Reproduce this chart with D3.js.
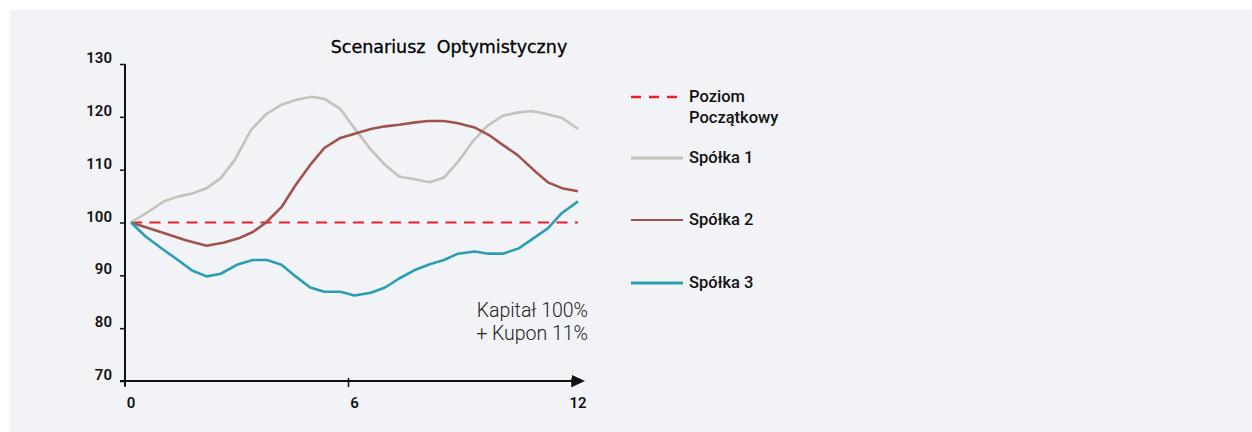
<!DOCTYPE html>
<html>
<head>
<meta charset="utf-8">
<script src="https://cdn.jsdelivr.net/npm/d3@7"></script>
<style>
  body { margin: 0; background: #fff; }
  svg text { font-family: Roboto, "Noto Sans", sans-serif; }
</style>
</head>
<body>
<div id="chart"></div>
<script>
// chart data (months 0..12, index level)
const xTicks = [0, 6, 12];
const yTicks = [70, 80, 90, 100, 110, 120, 130];
const startLevel = 100;

const s1Months = [0, 0.44, 0.88, 1.26, 1.64, 2.03, 2.41, 2.79, 3.22, 3.61, 4.04, 4.42, 4.85, 5.19, 5.62, 5.96, 6.44, 6.82, 7.2, 7.68, 8.02, 8.4, 8.78, 9.17, 9.55, 9.98, 10.37, 10.75, 11.13, 11.57, 12];
const s1Values = [100, 101.9, 104, 104.9, 105.5, 106.5, 108.4, 111.9, 117.5, 120.4, 122.3, 123.2, 123.8, 123.4, 121.5, 118.2, 113.8, 110.9, 108.7, 108.1, 107.6, 108.5, 111.5, 115.3, 118.2, 120.2, 120.8, 121.1, 120.6, 119.8, 117.7];

const s2Months = [0, 0.88, 1.45, 2.03, 2.5, 2.89, 3.27, 3.61, 4.04, 4.42, 4.81, 5.19, 5.62, 6.05, 6.44, 6.82, 7.2, 7.59, 7.97, 8.4, 8.78, 9.22, 9.6, 9.98, 10.37, 10.8, 11.19, 11.57, 12];
const s2Values = [100, 98.0, 96.7, 95.6, 96.2, 97.0, 98.2, 99.9, 102.9, 107.1, 110.9, 114.1, 116.0, 116.9, 117.7, 118.2, 118.5, 118.9, 119.2, 119.2, 118.8, 118.0, 116.6, 114.7, 112.8, 110.0, 107.6, 106.5, 105.9];

const s3Months = [0, 0.4, 0.88, 1.26, 1.64, 2.03, 2.41, 2.84, 3.27, 3.65, 4.04, 4.42, 4.81, 5.19, 5.62, 6.0, 6.44, 6.82, 7.2, 7.59, 8.02, 8.4, 8.78, 9.22, 9.6, 9.98, 10.41, 10.8, 11.19, 11.57, 12];
const s3Values = [100, 97.3, 94.8, 92.9, 90.9, 89.8, 90.3, 92.0, 92.9, 92.9, 92.0, 89.8, 87.7, 86.9, 86.9, 86.2, 86.7, 87.7, 89.4, 90.9, 92.1, 92.9, 94.1, 94.5, 94.1, 94.1, 95.1, 97.0, 98.9, 101.8, 104.0];

const seriesNames = ['Spółka 1', 'Spółka 2', 'Spółka 3'];
const seriesColors = ['#c3c2bc', '#a0524f', '#2a9db3'];
const levelName = ['Poziom', 'Początkowy'];
const titleText = 'Scenariusz\u00a0\u00a0Optymistyczny';
const noteLines = ['Kapitał 100%', '+ Kupon 11%'];

const W = 1252, H = 432;

const svg = d3.select('#chart').append('svg')
    .attr('width', W)
    .attr('height', H);

// grey panel
svg.append('rect')
    .attr('x', 10).attr('y', 10)
    .attr('width', W - 10).attr('height', H - 10)
    .attr('fill', '#f2f3f7');

const x = d3.scaleLinear().domain([0, 12]).range([131, 578]);
const y = d3.scaleLinear().domain([70, 130]).range([381, 64]);
const axisX = 125; // y axis sits a little left of month 0

// title
svg.append('text')
    .attr('x', 449).attr('y', 53)
    .attr('text-anchor', 'middle')
    .style('font-family', '"DejaVu Sans", sans-serif')
    .style('font-size', '17.5px')
    .attr('fill', '#000')
    .attr('stroke', '#000')
    .attr('stroke-width', 0.3)
    .text(titleText);

// y axis
const yAxis = svg.append('g')
    .attr('transform', `translate(${axisX},0)`)
    .call(d3.axisLeft(y).tickValues(yTicks).tickSize(5).tickPadding(8));
yAxis.select('.domain').attr('d', `M0,${y(130)}V${y(70) + 5}`).attr('stroke', '#111').attr('stroke-width', 2);
yAxis.selectAll('.tick line').attr('stroke', '#111').attr('stroke-width', 1.5);
yAxis.selectAll('.tick text')
    .attr('fill', '#111')
    .style('font-size', '15px')
    .style('font-weight', 600)
    .attr('dy', '-0.1em');

// x axis, ticks sit a few px left of the labels
const xAxis = svg.append('g')
    .attr('transform', `translate(0,${y(70)})`);
xAxis.append('line')
    .attr('x1', axisX - 5).attr('x2', x(12) + 2)
    .attr('stroke', '#111').attr('stroke-width', 2);
xAxis.append('path')
    .attr('d', `M${x(12) - 6},-6L${x(12) + 7},0L${x(12) - 6},6Z`)
    .attr('fill', '#111');
xAxis.selectAll('.xt')
    .data(xTicks)
    .enter()
    .append('line')
    .attr('class', 'xt')
    .attr('x1', d => x(d) - 6).attr('x2', d => x(d) - 6)
    .attr('y1', -3).attr('y2', 6)
    .attr('stroke', '#111').attr('stroke-width', 1.5);
xAxis.selectAll('.xl')
    .data(xTicks)
    .enter()
    .append('text')
    .attr('class', 'xl')
    .attr('x', d => x(d))
    .attr('y', 27)
    .attr('text-anchor', 'middle')
    .style('font-size', '15px')
    .style('font-weight', 600)
    .attr('fill', '#111')
    .text(d => d);

// starting level
svg.append('line')
    .attr('x1', x(0)).attr('x2', x(12))
    .attr('y1', y(startLevel)).attr('y2', y(startLevel))
    .attr('stroke', '#e3202c')
    .attr('stroke-width', 1.8)
    .attr('stroke-dasharray', '11,7.5');

const line = d3.line()
    .x(d => x(d[0]))
    .y(d => y(d[1]));

const series = [
    d3.zip(s1Months, s1Values),
    d3.zip(s2Months, s2Values),
    d3.zip(s3Months, s3Values)
];

svg.append('g').selectAll('path')
    .data(series)
    .enter()
    .append('path')
    .attr('d', line)
    .attr('fill', 'none')
    .attr('stroke', (d, i) => seriesColors[i])
    .attr('stroke-width', 2.6)
    .attr('stroke-linejoin', 'round');

// note
svg.append('g').selectAll('text')
    .data(noteLines)
    .enter()
    .append('text')
    .attr('x', 588)
    .attr('y', (d, i) => 317 + i * 23)
    .attr('text-anchor', 'end')
    .style('font-size', '19.5px')
    .style('font-weight', 300)
    .attr('fill', '#222')
    .text(d => d);

// legend
const leg = svg.append('g');
leg.append('line')
    .attr('x1', 631).attr('x2', 683)
    .attr('y1', 97).attr('y2', 97)
    .attr('stroke', '#e3202c')
    .attr('stroke-width', 2.4)
    .attr('stroke-dasharray', '10,8');
leg.selectAll('.lvl')
    .data(levelName)
    .enter()
    .append('text')
    .attr('class', 'lvl')
    .attr('x', 689)
    .attr('y', (d, i) => 102 + i * 21)
    .style('font-size', '16.5px')
    .style('font-weight', 500)
    .attr('fill', '#111')
    .text(d => d);

const legY = [158, 220, 283];
leg.selectAll('.sl')
    .data(seriesNames)
    .enter()
    .append('line')
    .attr('class', 'sl')
    .attr('x1', 631).attr('x2', 683)
    .attr('y1', (d, i) => legY[i]).attr('y2', (d, i) => legY[i])
    .attr('stroke', (d, i) => seriesColors[i])
    .attr('stroke-width', (d, i) => i === 1 ? 2 : 3);
leg.selectAll('.st')
    .data(seriesNames)
    .enter()
    .append('text')
    .attr('class', 'st')
    .attr('x', 689)
    .attr('y', (d, i) => legY[i] + 5)
    .style('font-size', '16.5px')
    .style('font-weight', 500)
    .attr('fill', '#111')
    .text(d => d);
</script>
</body>
</html>
